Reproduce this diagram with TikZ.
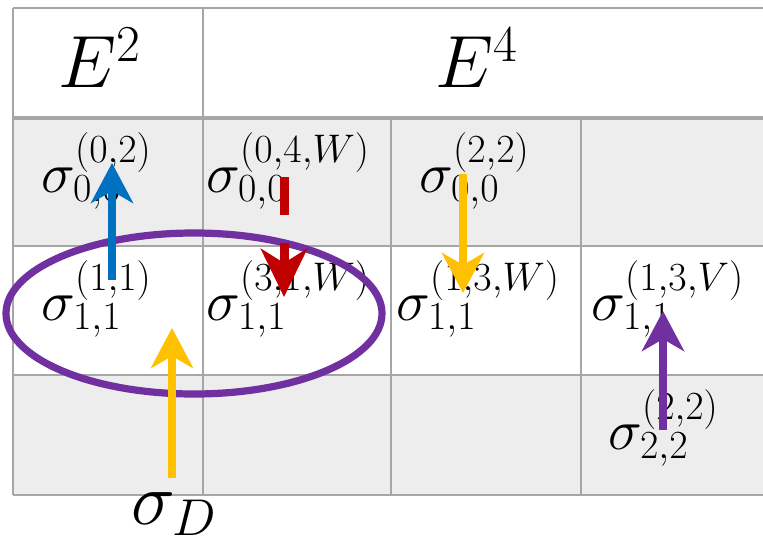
\RequirePackage{fix-cm}
\documentclass[tikz,border=0pt]{standalone}
\usepackage{tikz}
\usetikzlibrary{arrows.meta,positioning}
\definecolor{gridln}{RGB}{166,166,166}
\definecolor{cellbg}{RGB}{237,237,237}
\definecolor{dblue}{RGB}{0,112,192}
\definecolor{dred}{RGB}{192,0,0}
\definecolor{dgold}{RGB}{255,192,0}
\definecolor{dpurp}{RGB}{112,48,160}
\tikzset{
  grid/.style={draw=gridln,line width=1.4pt},
  head/.style={draw=gridln,line width=2.2pt},
  lbl/.style={inner sep=0pt,anchor=base west,font=\fontsize{28.5}{34}\selectfont},
  big/.style={inner sep=0pt,anchor=base west,font=\fontsize{37}{44}\selectfont},
  arr/.style={line width=4pt,-{Stealth[length=20pt,width=21pt,inset=6pt]}},
}

\begin{document}
\begin{tikzpicture}[x=0.5pt,y=-0.5pt]
  \useasboundingbox (0,0) rectangle (763,545);
  % shaded rows
  \fill[cellbg] (13,120) rectangle (763,246);
  \fill[cellbg] (13,375) rectangle (763,495);
  % table
  \draw[grid] (13,8) -- (763,8);
  \draw[grid] (13,246) -- (763,246);
  \draw[grid] (13,375) -- (763,375);
  \draw[grid] (13,495) -- (763,495);
  \draw[grid] (13,8) -- (13,495);
  \draw[grid] (203,8) -- (203,495);
  \draw[grid] (391,119) -- (391,495);
  \draw[grid] (581,119) -- (581,495);
  \draw[head] (13,118) -- (763,118);

  \node[big] (e2) at (58,88) {$E^2$};
  \node[big] (e4) at (435,88) {$E^4$};

  \node[lbl] (s02) at (41,192) {$\sigma_{0,0}^{(0,2)}$};
  \node[lbl] (s04w) at (206,192) {$\sigma_{0,0}^{(0,4,W)}$};
  \node[lbl] (s22) at (419,192) {$\sigma_{0,0}^{(2,2)}$};
  \node[lbl] (s11) at (41,320) {$\sigma_{1,1}^{(1,1)}$};
  \node[lbl] (s31w) at (206,320) {$\sigma_{1,1}^{(3,1,W)}$};
  \node[lbl] (s13w) at (396,320) {$\sigma_{1,1}^{(1,3,W)}$};
  \node[lbl] (s13v) at (591,320) {$\sigma_{1,1}^{(1,3,V)}$};
  \node[lbl] (s22b) at (608,449) {$\sigma_{2,2}^{(2,2)}$};
  \node[big] (sd) at (131,524) {$\sigma_D$};

  \draw[dpurp,line width=3.6pt] (194,313.5) ellipse [x radius=188,y radius=80.5];

  \coordinate (b0) at (112,280);
  \coordinate (b1) at (112,163);
  \coordinate (r0) at (284,177);
  \coordinate (r1) at (284,297);
  \coordinate (y0) at (463,174);
  \coordinate (y1) at (463,293);
  \coordinate (d0) at (172,478);
  \coordinate (d1) at (172,328);
  \coordinate (p0) at (663,430);
  \coordinate (p1) at (663,311);
  \draw[arr,dblue] (b0) -- (b1);
  \draw[arr,dred,line width=4.5pt,dash pattern=on 19pt off 14pt,
    -{Stealth[length=24pt,width=23pt,inset=7pt]}] (r0) -- (r1);
  \draw[arr,dgold] (y0) -- (y1);
  \draw[arr,dgold] (d0) -- (d1);
  \draw[arr,dpurp] (p0) -- (p1);
\end{tikzpicture}
\end{document}
